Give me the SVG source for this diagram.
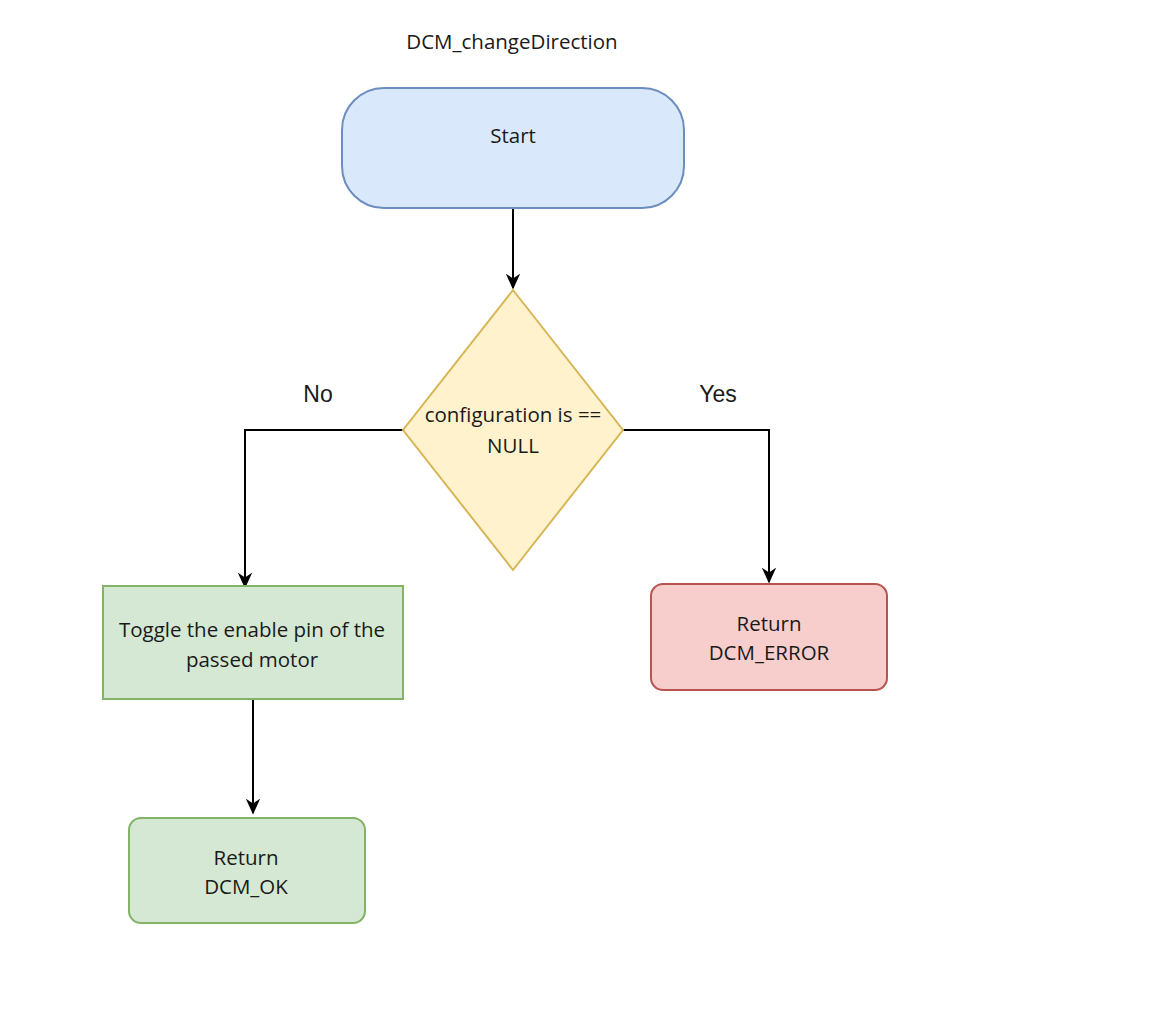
<svg xmlns="http://www.w3.org/2000/svg" width="1152" height="1009" viewBox="0 0 1152 1009">
<style>
.t{font-family:"Open Sans","Noto Sans","Liberation Sans",sans-serif;font-size:20.5px;fill:#1a1a1a;text-anchor:middle}
.l{font-family:"Liberation Sans",Arial,sans-serif;font-size:23px;fill:#1a1a1a;text-anchor:middle}
.c{fill:none;stroke:#000;stroke-width:2}
</style>
<defs>
<marker id="ah" viewBox="0 0 10 10" refX="9" refY="5" markerWidth="16" markerHeight="16" markerUnits="userSpaceOnUse" orient="auto">
<path d="M0,0.5 L10,5 L0,9.5 L3,5 Z" fill="#000"/>
</marker>
</defs>
<rect width="1152" height="1009" fill="#fff"/>
<text class="t" x="512" y="49">DCM_changeDirection</text>
<g id="connectors">
<path class="c" d="M513,208 V288" marker-end="url(#ah)"/>
<path class="c" d="M403,430 H245 V587" marker-end="url(#ah)"/>
<path class="c" d="M623,430 H769 V582" marker-end="url(#ah)"/>
<path class="c" d="M253,700 V813" marker-end="url(#ah)"/>
<text class="l" x="318" y="402">No</text>
<text class="l" x="718" y="402">Yes</text>
</g>
<g id="start">
<rect x="342" y="88" width="342" height="120" rx="42" ry="42" fill="#dae8fc" stroke="#6c8ebf" stroke-width="2"/>
<text class="t" x="513" y="143">Start</text>
</g>
<g id="decision">
<path d="M513,290 L623,430 L513,570 L403,430 Z" fill="#fff2cc" stroke="#d6b656" stroke-width="2"/>
<text class="t" x="513" y="422">configuration is ==</text>
<text class="t" x="513" y="453">NULL</text>
</g>
<g id="toggle">
<rect x="103" y="586" width="300" height="113" fill="#d5e8d4" stroke="#82b366" stroke-width="2"/>
<text class="t" x="252" y="637">Toggle the enable pin of the</text>
<text class="t" x="252" y="667">passed motor</text>
</g>
<g id="return-ok">
<rect x="129" y="818" width="236" height="105" rx="12" ry="12" fill="#d5e8d4" stroke="#82b366" stroke-width="2"/>
<text class="t" x="246" y="865">Return</text>
<text class="t" x="246" y="894">DCM_OK</text>
</g>
<g id="return-error">
<rect x="651" y="584" width="236" height="106" rx="12" ry="12" fill="#f8cecc" stroke="#b85450" stroke-width="2"/>
<text class="t" x="769" y="631">Return</text>
<text class="t" x="769" y="660">DCM_ERROR</text>
</g>
</svg>
